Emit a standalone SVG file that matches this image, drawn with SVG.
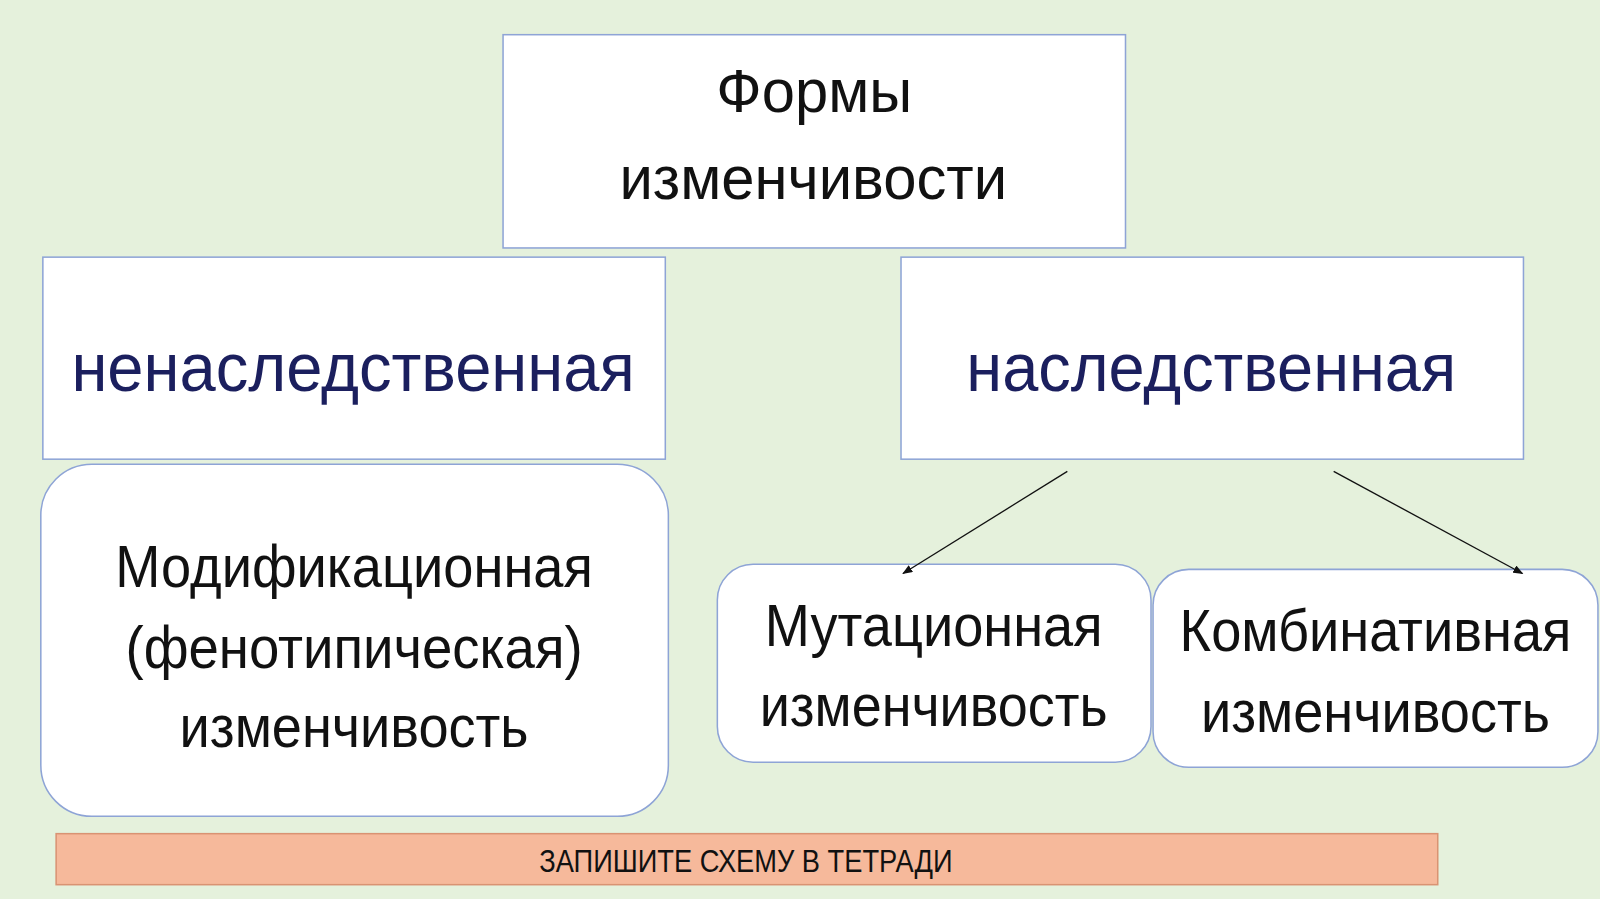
<svg xmlns="http://www.w3.org/2000/svg" width="1600" height="899" viewBox="0 0 1600 899">
<defs>
<style>
.box{fill:#fff;stroke:#8ea4d6;stroke-width:1.5}
.t{font-family:"Liberation Sans",Arial,sans-serif;text-anchor:middle;fill:#111}
.n{fill:#1b1f5e;font-size:68px}
.c{stroke:#111;stroke-width:1.3;fill:none;marker-end:url(#ah)}
</style>
<marker id="ah" markerWidth="10" markerHeight="8" refX="9" refY="4" orient="auto" markerUnits="userSpaceOnUse"><path d="M0,0 L10,4 L0,8z" fill="#111"/></marker>
</defs>
<rect width="1600" height="899" fill="#e5f1dc"/>
<g transform="scale(1.0204)">
<g id="top"><rect class="box" x="493" y="34" width="610" height="209"/>
<text class="t" x="798" y="110" font-size="60" textLength="192" lengthAdjust="spacingAndGlyphs">Формы</text>
<text class="t" x="797" y="195" font-size="60" textLength="380" lengthAdjust="spacingAndGlyphs">изменчивости</text></g>
<g id="nonher"><rect class="box" x="42" y="252" width="610" height="198"/>
<text class="t n" x="346" y="383" textLength="552" lengthAdjust="spacingAndGlyphs">ненаследственная</text></g>
<g id="her"><rect class="box" x="883" y="252" width="610" height="198"/>
<text class="t n" x="1187" y="383" textLength="480" lengthAdjust="spacingAndGlyphs">наследственная</text></g>
<g id="mod"><rect class="box" x="40" y="455" width="615" height="345" rx="50"/>
<g class="t" font-size="58"><text x="347" y="575" textLength="468" lengthAdjust="spacingAndGlyphs">Модификационная</text>
<text x="347" y="655" textLength="448" lengthAdjust="spacingAndGlyphs">(фенотипическая)</text>
<text x="347" y="732" textLength="342" lengthAdjust="spacingAndGlyphs">изменчивость</text></g></g>
<g id="mut"><rect class="box" x="703" y="553" width="425" height="194" rx="35"/>
<g class="t" font-size="58"><text x="915" y="633" textLength="331" lengthAdjust="spacingAndGlyphs">Мутационная</text>
<text x="915" y="711" textLength="341" lengthAdjust="spacingAndGlyphs">изменчивость</text></g></g>
<g id="comb"><rect class="box" x="1130" y="558" width="436" height="194" rx="35"/>
<g class="t" font-size="58"><text x="1348" y="638" textLength="384" lengthAdjust="spacingAndGlyphs">Комбинативная</text>
<text x="1348" y="717" textLength="342" lengthAdjust="spacingAndGlyphs">изменчивость</text></g></g>
<g id="connectors"><path class="c" d="M1046,462 L885,562"/><path class="c" d="M1307,462 L1492,562"/></g>
<g id="note"><rect x="55" y="817" width="1354" height="50" fill="#f6b99b" stroke="#d99373" stroke-width="1.5"/>
<text class="t" x="731" y="855" font-size="30" textLength="405" lengthAdjust="spacingAndGlyphs">ЗАПИШИТЕ СХЕМУ В ТЕТРАДИ</text></g>
</g>
</svg>
